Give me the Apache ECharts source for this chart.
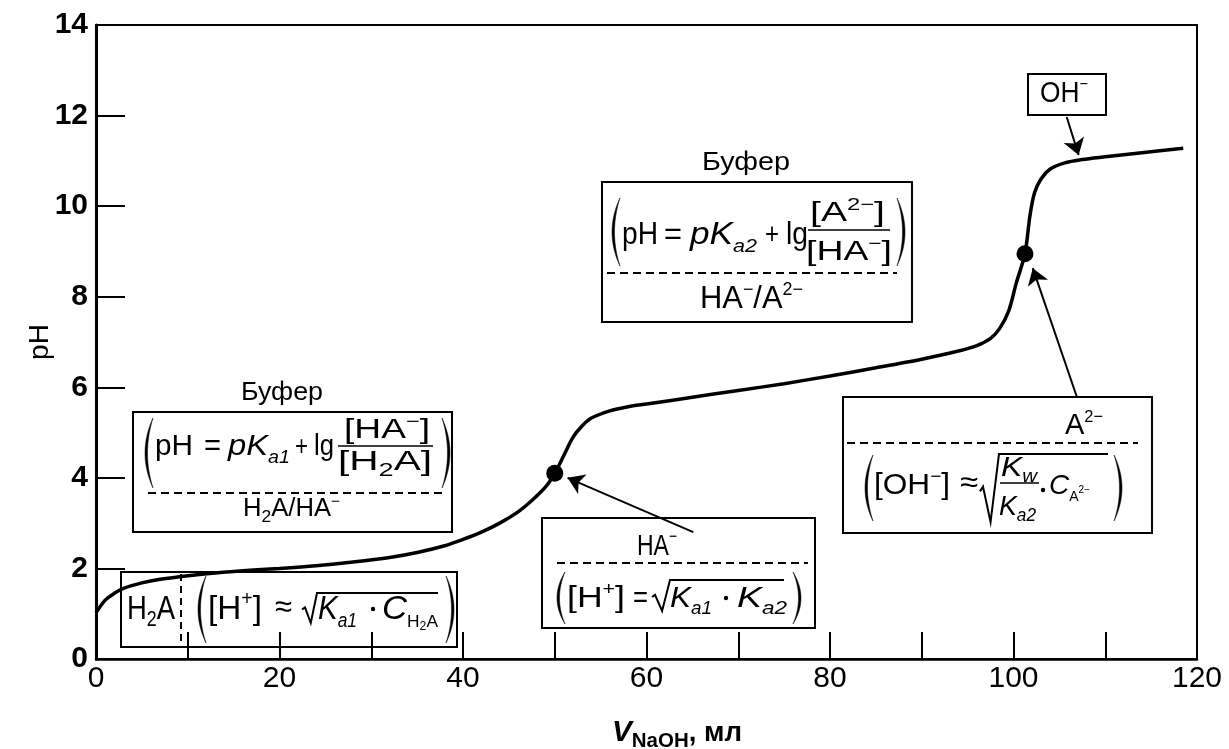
<!DOCTYPE html>
<html>
<head>
<meta charset="utf-8">
<script src="https://cdn.jsdelivr.net/npm/echarts@6/dist/echarts.min.js"></script>
<style>
html, body { margin: 0; padding: 0; background: #fff; }
#chart { width: 1229px; height: 749px; }
</style>
</head>
<body>
<div id="chart"></div>
<script>
// Titration of the diprotic acid H2A with NaOH: pH versus added volume
const volumeMl = [0, 1, 2, 3, 5, 7, 10, 13, 16, 20, 24, 28, 32, 35, 38, 40, 42, 44, 46, 47.5, 49, 50,
  51, 52, 53, 54, 56, 58, 60, 65, 70, 75, 80, 85, 90, 94, 96, 97.5, 98.5, 99.5, 100.3, 101.25,
  101.8, 102.3, 103, 104, 105.5, 107.5, 110, 114, 118.5];
const phValues = [1.02, 1.3, 1.45, 1.56, 1.68, 1.76, 1.84, 1.9, 1.95, 2.0, 2.06, 2.14, 2.24, 2.35, 2.5, 2.64, 2.8, 3.0, 3.25, 3.5, 3.8, 4.1,
  4.5, 4.9, 5.15, 5.32, 5.48, 5.57, 5.63, 5.78, 5.93, 6.08, 6.25, 6.43, 6.62, 6.8, 6.92, 7.08, 7.3, 7.7, 8.3, 8.95,
  9.8, 10.3, 10.6, 10.82, 10.95, 11.03, 11.09, 11.18, 11.28];

// equivalence points (HA- and A2-)
const equivVolume = [50, 101.25];
const equivPh = [4.1, 8.95];

// axis ticks and labels
const xLabelValues = [0, 20, 40, 60, 80, 100, 120];
const yLabelValues = [0, 2, 4, 6, 8, 10, 12, 14];

// pointer arrows (from annotation to curve), in (volume, pH)
const arrowFrom = [[65.1, 2.8], [106.9, 5.79], [105.8, 11.97]];
const arrowTo = [[51.4, 4.0], [102.1, 8.63], [107.1, 11.13]];

const FF = '"Liberation Sans", Arial, Helvetica, sans-serif';
const mctx = document.createElement('canvas').getContext('2d');
function font(size, f) {
  f = f || '';
  return (f.indexOf('i') >= 0 ? 'italic ' : '') + (f.indexOf('b') >= 0 ? 'bold ' : '') + size + 'px ' + FF;
}
function measure(s, size, f) { mctx.font = font(size, f); return mctx.measureText(s).width; }

// a row of text pieces on one baseline, squeezed or stretched to span x0..x1
function run(x0, x1, base, items) {
  let natural = 0;
  items.forEach(it => { natural += typeof it === 'number' ? it : measure(it[0], it[1], it[3]); });
  const sx = x1 ? (x1 - x0) / natural : 1;
  const out = [];
  let cx = x0;
  items.forEach(it => {
    if (typeof it === 'number') { cx += it * sx; return; }
    const s = it[0], size = it[1], dy = it[2] || 0, f = it[3];
    out.push({
      type: 'text', x: cx, y: base + dy - 0.347 * size, scaleX: sx, silent: true, z: 100,
      style: { text: s, x: 0, y: 0, font: font(size, f), fill: '#000',
        align: 'left', verticalAlign: 'middle', textAlign: 'left', textVerticalAlign: 'middle' }
    });
    cx += measure(s, size, f) * sx;
  });
  return out;
}
function seg(x1, y1, x2, y2, w, dash) {
  return { type: 'line', silent: true, z: 100, shape: { x1: x1, y1: y1, x2: x2, y2: y2 },
    style: { stroke: '#000', lineWidth: w || 2, lineDash: dash || null } };
}
function box(x, y, w, h) {
  return { type: 'rect', silent: true, z: 95, shape: { x: x, y: y, width: w, height: h },
    style: { fill: null, stroke: '#000', lineWidth: 2 } };
}
// tall bracket drawn as a thin crescent
function paren(x, y1, y2, right) {
  const s = right ? 1 : -1, ym = (y1 + y2) / 2, pts = [];
  const q = (t, c) => {
    const cx = x + s * c, u = 1 - t;
    return [u * u * x + 2 * u * t * cx + t * t * x, u * u * y1 + 2 * u * t * ym + t * t * y2];
  };
  for (let i = 0; i <= 20; i++) pts.push(q(i / 20, 11));
  for (let i = 20; i >= 0; i--) pts.push(q(i / 20, 16));
  return { type: 'polygon', silent: true, z: 100, shape: { points: pts }, style: { fill: '#000', stroke: '#000', lineWidth: 0.5 } };
}
function radical(x0, x1, top, bottom, xEnd) {
  const h = bottom - top;
  return { type: 'polyline', silent: true, z: 100,
    shape: { points: [[x0, bottom - 0.45 * h], [x0 + 3, bottom - 0.52 * h], [x0 + 0.45 * (x1 - x0) + 2, bottom], [x1, top], [xEnd, top]] },
    style: { stroke: '#000', lineWidth: 2, fill: null } };
}
function dot(cx, cy) {
  return { type: 'circle', silent: true, z: 100, shape: { cx: cx, cy: cy, r: 2.2 }, style: { fill: '#000' } };
}
const DASH = [8, 5];

const notes = [].concat(
  // H2A box
  [box(121, 572, 336, 75)],
  run(127, 175, 621, [['H', 34], ['2', 22, 7], ['A', 34]]),
  [seg(181, 574, 181, 645, 2, [7, 5])],
  [paren(206, 576, 643, false)],
  run(208, 262, 621, [['[H', 34], ['+', 20, -15], [']', 34]]),
  run(275, 292, 619, [['≈', 32]]),
  [radical(302, 317, 593, 623, 438)],
  run(318, 357, 621, [['K', 34, 0, 'i'], ['a1', 20, 7, 'i']]),
  [dot(373, 609)],
  run(382, 438, 621, [['C', 34, 0, 'i'], ['H', 17, 7], ['2', 12, 10], ['A', 17, 7]]),
  [paren(446, 576, 643, true)],

  // first buffer region
  run(241, 323, 402, [['Буфер', 26]]),
  [box(133, 412, 319, 120)],
  [paren(153, 418, 488, false)],
  run(155, 193, 457, [['pH', 30]]),
  run(204, 221, 457, [['=', 30]]),
  run(228, 290, 457, [['pK', 30, 0, 'i'], ['a1', 18, 7, 'i']]),
  run(295, 308, 457, [['+', 28]]),
  run(314, 334, 457, [['lg', 30]]),
  run(344, 430, 440, [['[HA', 27], ['−', 17, -12], [']', 27]]),
  [seg(338, 446, 433, 446, 1.5)],
  run(338, 432, 472, [['[H', 27], ['2', 18, 5], ['A]', 27]]),
  [paren(442, 418, 488, true)],
  [seg(148, 493, 443, 493, 2, DASH)],
  run(243, 340, 518, [['H', 25], ['2', 17, 5], ['A/HA', 25], ['−', 15, -11]]),

  // first equivalence point HA-
  [box(542, 518, 273, 110)],
  run(637, 677, 557, [['HA', 30], ['−', 18, -14]]),
  [seg(557, 563, 808, 563, 2, DASH)],
  [paren(565, 572, 624, false)],
  run(567, 625, 609, [['[H', 30], ['+', 18, -13], [']', 30]]),
  run(633, 648, 609, [['=', 30]]),
  [radical(652, 670, 580, 611, 784)],
  run(670, 712, 609, [['K', 30, 0, 'i'], ['a1', 18, 6, 'i']]),
  [dot(726, 598)],
  run(737, 787, 609, [['K', 30, 0, 'i'], ['a2', 18, 6, 'i']]),
  [paren(793, 572, 624, true)],

  // second buffer region
  run(702, 790, 172, [['Буфер', 25]]),
  [box(602, 182, 310, 140)],
  [paren(620, 198, 266, false)],
  run(622, 658, 246, [['pH', 31]]),
  run(664, 682, 246, [['=', 31]]),
  run(690, 757, 246, [['pK', 31, 0, 'i'], ['a2', 19, 7, 'i']]),
  run(765, 779, 246, [['+', 29]]),
  run(786, 808, 246, [['lg', 31]]),
  run(810, 885, 223, [['[A', 28], ['2−', 17, -12], [']', 28]]),
  [seg(808, 230, 890, 230, 1.5)],
  run(806, 892, 262, [['[HA', 28], ['−', 17, -12], [']', 28]]),
  [paren(897, 198, 266, true)],
  [seg(607, 273, 897, 273, 2, DASH)],
  run(700, 803, 310, [['HA', 31], ['−', 18, -14], ['/A', 31], ['2−', 18, -14]]),

  // second equivalence point A2-
  [box(843, 397, 309, 136)],
  run(1065, 1103, 436, [['A', 30], ['2−', 17, -13]]),
  [seg(847, 443, 1138, 443, 2, DASH)],
  [paren(873, 455, 521, false)],
  run(874, 950, 496, [['[OH', 30], ['−', 18, -13], [']', 30]]),
  run(960, 978, 494, [['≈', 30]]),
  [radical(980, 999, 454, 522, 1108)],
  run(1001, 1037, 478, [['K', 28, 0, 'i'], ['w', 18, 5, 'i']]),
  [seg(1000, 483, 1039, 483, 1.5)],
  run(999, 1036, 517, [['K', 28, 0, 'i'], ['a2', 18, 5, 'i']]),
  [dot(1043, 490)],
  run(1049, 1090, 496, [['C', 28, 0, 'i'], ['A', 14, 6], ['2−', 10, -2]]),
  [paren(1114, 455, 521, true)],

  // excess base
  [box(1028, 74, 78, 41)],
  run(1040, 1088, 104, [['OH', 29], ['−', 16, -14]]),

  // x-axis title
  run(612, 742, 743, [['V', 29, 0, 'ib'], ['NaOH', 20, 5, 'b'], [', мл', 27, 0, 'b']])
);

const chart = echarts.init(document.getElementById('chart'), null, { renderer: 'canvas' });
chart.setOption({
  animation: false,
  backgroundColor: '#fff',
  grid: { left: 96, right: 32, top: 25, bottom: 90, show: true, borderColor: '#000', borderWidth: 2, backgroundColor: 'transparent' },
  xAxis: {
    type: 'value', min: 0, max: 120, interval: 10,
    axisLine: { lineStyle: { color: '#000', width: 2.5 } },
    axisTick: { inside: true, length: 27, lineStyle: { color: '#000', width: 2 } },
    axisLabel: { margin: 5, color: '#000', fontFamily: FF, fontSize: 30,
      formatter: v => (xLabelValues.indexOf(v) >= 0 ? String(v) : '') },
    splitLine: { show: false }
  },
  yAxis: {
    type: 'value', min: 0, max: 14, interval: 2,
    name: 'pH', nameLocation: 'middle', nameGap: 42, nameMoveOverlap: false,
    nameTextStyle: { color: '#000', fontFamily: FF, fontSize: 28 },
    axisLine: { lineStyle: { color: '#000', width: 3 } },
    axisTick: { inside: true, length: 29, lineStyle: { color: '#000', width: 2 } },
    axisLabel: { margin: 8, color: '#000', fontFamily: FF, fontSize: 30, fontWeight: 'bold',
      formatter: v => (yLabelValues.indexOf(v) >= 0 ? String(v) : '') },
    splitLine: { show: false }
  },
  series: [
    {
      type: 'line',
      data: volumeMl.map((v, i) => [v, phValues[i]]),
      showSymbol: false, smooth: 0.3,
      lineStyle: { color: '#000', width: 3.5 },
      silent: true, z: 3,
      markLine: {
        silent: true, symbol: ['none', 'arrow'], symbolSize: 16,
        label: { show: false },
        lineStyle: { color: '#000', width: 2, type: 'solid' },
        emphasis: { disabled: true },
        data: arrowFrom.map((p, i) => [{ coord: p }, { coord: arrowTo[i] }])
      }
    },
    {
      type: 'scatter',
      data: equivVolume.map((v, i) => [v, equivPh[i]]),
      symbolSize: 17,
      itemStyle: { color: '#000', opacity: 1 },
      silent: true, z: 4
    }
  ],
  graphic: { elements: notes }
});
</script>
</body>
</html>
